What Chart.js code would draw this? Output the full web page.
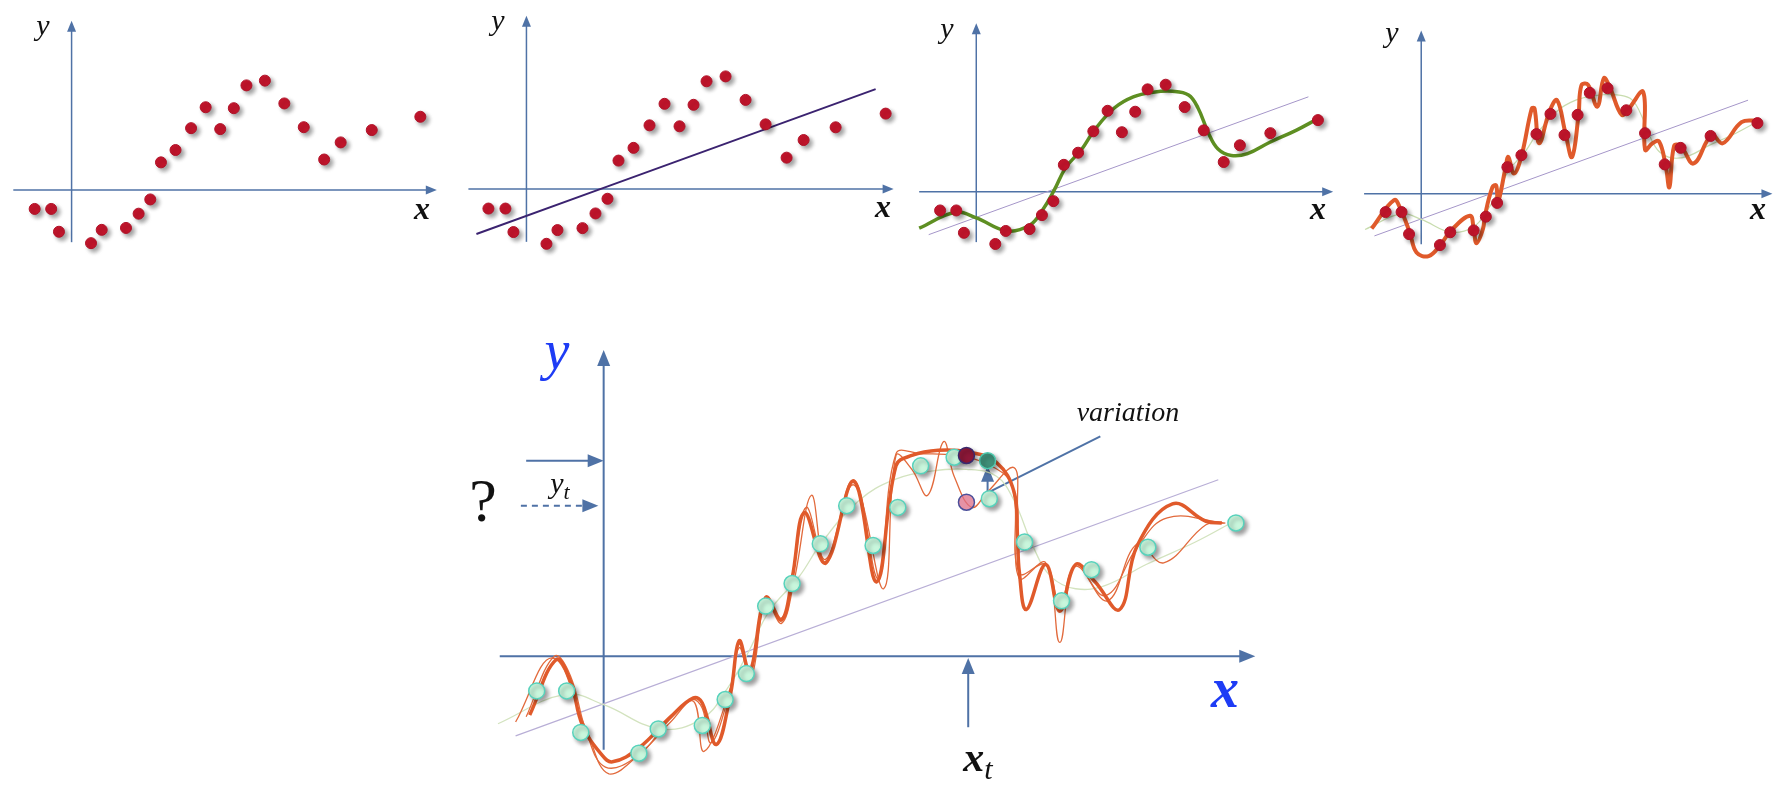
<!DOCTYPE html>
<html lang="en">
<head>
<meta charset="UTF-8" />
<title>Fitting noisy points</title>
<style>
    body {
        margin: 0;
        width: 1780px;
        height: 785px;
        position: relative;
        overflow: hidden;
        background: #fff;
        font-family: "Liberation Serif", "DejaVu Serif", serif;
    }

    canvas {
        position: absolute;
        display: block;
    }

    .lbl {
        position: absolute;
        transform: translate(-50%, -50%);
        font-style: italic;
        white-space: nowrap;
        line-height: 1;
        color: #111;
    }
</style>
</head>
<body>
<canvas id="p1"></canvas>
<canvas id="p2"></canvas>
<canvas id="p3"></canvas>
<canvas id="p4"></canvas>
<canvas id="p5"></canvas>

<div class="lbl" style="left:43px;top:25px;font-size:30px">y</div>
<div class="lbl" style="left:422px;top:208px;font-size:32px;font-weight:bold">x</div>
<div class="lbl" style="left:498px;top:20px;font-size:30px">y</div>
<div class="lbl" style="left:883px;top:206px;font-size:32px;font-weight:bold">x</div>
<div class="lbl" style="left:947px;top:28px;font-size:30px">y</div>
<div class="lbl" style="left:1318px;top:208px;font-size:32px;font-weight:bold">x</div>
<div class="lbl" style="left:1392px;top:32px;font-size:30px">y</div>
<div class="lbl" style="left:1758px;top:208px;font-size:32px;font-weight:bold">x</div>

<div class="lbl" style="left:557px;top:350px;font-size:56px;color:#1e3cf5">y</div>
<div class="lbl" style="left:1225px;top:688px;font-size:56px;font-weight:bold;color:#1e3cf5">x</div>
<div class="lbl" style="left:483px;top:500px;font-size:62px;font-style:normal">?</div>
<div class="lbl" style="left:560px;top:485px;font-size:30px">y<span style="font-size:22px;vertical-align:-6px">t</span></div>
<div class="lbl" style="left:978px;top:760px;font-size:42px"><b>x</b><span style="font-size:30px;vertical-align:-8px">t</span></div>
<div class="lbl" style="left:1128px;top:412px;font-size:28px">variation</div>

<script src="https://cdn.jsdelivr.net/npm/chart.js"></script>
<script>
    // observed points (same sample in every panel)
    const obsX = [-38, -21, -13, 20, 31, 56, 69, 81, 92, 107, 123, 138, 153, 167, 180, 199, 219, 239, 260, 277, 309, 359];
    const obsY = [-20, -20, -44, -56, -42, -40, -25, -10, 29, 42, 65, 87, 64, 86, 110, 115, 91, 66, 32, 50, 63, 77];

    // straight line fit
    const lineX = [-50, 349];
    const lineY = [-46, 102];

    // smooth fit (green)
    const fitX = [-60, -22, 0, 32, 56, 70, 82, 94, 111, 124, 145, 165, 186, 206, 223, 233, 244, 254, 268, 285, 308, 336, 358];
    const fitY = [-39, -22, -28, -42, -36, -19, 2, 26, 46, 66, 90, 102, 107, 108, 104, 90, 63, 46, 39, 41, 53, 66, 78];

    // over-fitted curve (panel 4)
    const overX = [-53, -29, -22, -12, -5, 8, 21, 31, 52, 56, 59, 66, 68, 76, 80, 82, 90, 93, 99, 107, 118, 121, 126, 137, 145, 154, 161, 168, 171, 178, 188, 195, 201, 214, 221, 237, 239, 247, 254, 261, 265, 270, 277, 291, 310, 322, 342, 358];
    const overY = [-38, -7, -17, -43, -64, -68, -55, -41, -24, -38, -54, -38, -24, 7, 9, -9, 28, 40, 22, 41, 93, 93, 55, 90, 102, 66, 40, 86, 118, 119, 95, 126, 117, 86, 92, 111, 48, 55, 57, 31, 7, 52, 52, 33, 64, 55, 78, 80];

    // bottom panel: thick model and two variant models
    const thickX = [-42, -27, -19, -12, -1, 5, 20, 38, 51, 56, 64, 72, 77, 83, 92, 101, 107, 114, 126, 142, 155, 166, 175, 190, 207, 223, 233, 235, 236, 240, 251, 259, 268, 279, 293, 303, 323, 342, 351];
    const thickY = [-34, -2, -14, -40, -57, -61, -53, -35, -24, -27, -51, -22, 9, -9, 34, 21, 45, 83, 54, 101, 43, 110, 116, 119, 118, 112, 95, 69, 49, 27, 53, 26, 53, 43, 27, 64, 88, 78, 77];
    const varAX = [-50, -29, -10, 3, 22, 38, 51, 57, 72, 77, 84, 92, 101, 108, 118, 126, 142, 159, 166, 175, 184, 193, 199, 209, 218, 233, 235, 236, 251, 259, 268, 286, 303, 318, 342, 353];
    const varAY = [-38, -1, -42, -68, -55, -38, -26, -55, -18, 7, -11, 32, 19, 43, 93, 53, 99, 39, 116, 108, 93, 124, 104, 86, 95, 109, 86, 45, 54, 8, 53, 32, 65, 54, 76, 77];
    const varBX = [-44, -28, -19, -10, 1, 20, 37, 50, 56, 61, 71, 77, 83, 92, 101, 107, 115, 126, 142, 156, 166, 180, 200, 220, 232, 236, 251, 259, 268, 285, 303, 320, 352];
    const varBY = [-35, 0, -11, -43, -64, -57, -37, -25, -30, -50, -23, 5, -11, 32, 22, 44, 86, 56, 102, 45, 117, 117, 116, 110, 98, 48, 53, 30, 52, 35, 63, 80, 77];

    // prediction at x_t
    const predX = [206];
    const predY = [116];
    const guessX = [206];
    const guessY = [89];
    const trueX = [218];
    const trueY = [113];

    const zip = (xs, ys) => xs.map((x, i) => ({ x: x, y: ys[i] }));

    const axisBlue = '#4f72a6';

    function drawArrow(ctx, x1, y1, x2, y2, head, dash) {
        ctx.save();
        if (dash) ctx.setLineDash(dash);
        const a = Math.atan2(y2 - y1, x2 - x1);
        const hx = x2 - Math.cos(a) * head[0] * 0.8;
        const hy = y2 - Math.sin(a) * head[0] * 0.8;
        ctx.beginPath();
        ctx.moveTo(x1, y1);
        ctx.lineTo(head[0] ? hx : x2, head[0] ? hy : y2);
        ctx.stroke();
        ctx.restore();
        if (!head[0]) return;
        ctx.beginPath();
        ctx.moveTo(x2, y2);
        ctx.lineTo(x2 - Math.cos(a) * head[0] - Math.sin(a) * head[1], y2 - Math.sin(a) * head[0] + Math.cos(a) * head[1]);
        ctx.lineTo(x2 - Math.cos(a) * head[0] + Math.sin(a) * head[1], y2 - Math.sin(a) * head[0] - Math.cos(a) * head[1]);
        ctx.closePath();
        ctx.fill();
    }

    // axes + annotation arrows, in data units
    const arrowsPlugin = {
        id: 'arrows',
        beforeDatasetsDraw(chart, args, opts) {
            const ctx = chart.ctx;
            const sx = chart.scales.x, sy = chart.scales.y;
            ctx.save();
            ctx.strokeStyle = opts.color;
            ctx.fillStyle = opts.color;
            ctx.lineWidth = opts.width;
            (opts.list || []).forEach(a => {
                drawArrow(ctx,
                    sx.getPixelForValue(a[0]), sy.getPixelForValue(a[1]),
                    sx.getPixelForValue(a[2]), sy.getPixelForValue(a[3]),
                    a[4] === false ? [0, 0] : opts.head, a[5]);
            });
            ctx.restore();
        }
    };

    const shadowPlugin = {
        id: 'dotShadow',
        beforeDatasetDraw(chart, args) {
            const ds = chart.data.datasets[args.index];
            if (!ds.shadow) return;
            const ctx = chart.ctx;
            ctx.save();
            ctx.shadowColor = 'rgba(0,0,0,0.38)';
            ctx.shadowBlur = 4;
            ctx.shadowOffsetX = 3;
            ctx.shadowOffsetY = 3;
        },
        afterDatasetDraw(chart, args) {
            if (chart.data.datasets[args.index].shadow) chart.ctx.restore();
        }
    };

    function curve(xs, ys, color, width, order, smooth) {
        return {
            data: zip(xs, ys), showLine: true, borderColor: color, borderWidth: width,
            pointRadius: 0, order: order, clip: false,
            tension: smooth ? 0.4 : 0,
            cubicInterpolationMode: smooth ? 'default' : 'monotone'
        };
    }

    function redDots(r) {
        return {
            data: zip(obsX, obsY), showLine: false, pointRadius: r, pointBackgroundColor: '#c4152c',
            pointBorderColor: '#b01228', pointBorderWidth: 1, order: 0, shadow: true, clip: false
        };
    }

    function makePanel(id, p, datasets, arrows) {
        const c = document.getElementById(id);
        c.width = p.w;
        c.height = p.h;
        c.style.left = p.left + 'px';
        c.style.top = p.top + 'px';
        return new Chart(c, {
            type: 'scatter',
            data: { datasets: datasets },
            options: {
                responsive: false,
                animation: false,
                events: [],
                layout: { padding: 0 },
                scales: {
                    x: { type: 'linear', display: false, min: -p.ox / p.s, max: (p.w - p.ox) / p.s },
                    y: { type: 'linear', display: false, min: -(p.h - p.oy) / p.s, max: p.oy / p.s }
                },
                plugins: {
                    legend: { display: false },
                    tooltip: { enabled: false },
                    arrows: arrows
                }
            },
            plugins: [arrowsPlugin, shadowPlugin]
        });
    }

    // panel 1: data only
    makePanel('p1', { left: 0, top: 0, w: 455, h: 262, ox: 67, oy: 193, s: 1.0 },
        [redDots(5.5)],
        { color: axisBlue, width: 1.5, head: [11, 4.5], list: [[-60, 0, 376, 0], [0, -55, 0, 178]] });

    // panel 2: straight line
    makePanel('p2', { left: 450, top: 0, w: 455, h: 262, ox: 72, oy: 192, s: 1.03 },
        [redDots(5.5), curve(lineX, lineY, '#3b2370', 2, 2)],
        { color: axisBlue, width: 1.5, head: [11, 4.5], list: [[-58, 0, 367, 0], [0, -54, 0, 177]] });

    // panel 3: smooth fit
    makePanel('p3', { left: 895, top: 0, w: 450, h: 262, ox: 77, oy: 195, s: 0.98 },
        [redDots(5.5), curve(fitX, fitY, '#5e8f22', 3.5, 1, true), curve(lineX, lineY, '#a596c9', 1, 2)],
        { color: axisBlue, width: 1.5, head: [11, 4.5], list: [[-60, 0, 375, 0], [0, -54, 0, 181]] });

    // panel 4: over-fit
    makePanel('p4', { left: 1340, top: 0, w: 440, h: 262, ox: 77, oy: 197, s: 0.965 },
        [redDots(5.5), curve(overX, overY, '#e05a2b', 4, 1, true), curve(fitX, fitY, '#c8dcae', 1.2, 2, true), curve(lineX, lineY, '#a596c9', 1, 3)],
        { color: axisBlue, width: 1.5, head: [11, 4.5], list: [[-61, 0, 375, 0], [0, -55, 0, 178]] });

    // bottom: several models and a prediction
    makePanel('p5', { left: 420, top: 290, w: 880, h: 495, ox: 178, oy: 371, s: 1.8 },
        [
            {
                data: zip(predX, predY), showLine: false, pointRadius: 8, pointBackgroundColor: '#8c1838',
                pointBorderColor: '#3a2a6e', pointBorderWidth: 1.5, order: -2, shadow: true
            },
            {
                data: zip(trueX, trueY), showLine: false, pointRadius: 8, pointBackgroundColor: '#3f8f78',
                pointBorderColor: '#4fcab0', pointBorderWidth: 1.5, order: -1, shadow: true
            },
            {
                data: zip(guessX, guessY), showLine: false, pointRadius: 8, pointBackgroundColor: 'rgba(222,110,135,0.75)',
                pointBorderColor: '#4b4f9a', pointBorderWidth: 1.5, order: -1
            },
            {
                data: zip(obsX, obsY), showLine: false, pointRadius: 8, pointBackgroundColor: '#c8f6dc',
                pointBorderColor: '#58d2bc', pointBorderWidth: 1.5, order: 0, shadow: true
            },
            curve(thickX, thickY, '#e05a2b', 3.5, 1, true),
            curve(varAX, varAY, '#e26a3c', 1.3, 2, true),
            curve(varBX, varBY, '#e26a3c', 1.3, 2, true),
            curve(fitX, fitY, '#d3e3bf', 1.3, 3, true),
            curve(lineX, lineY, '#b8aed6', 1.2, 4)
        ],
        {
            color: axisBlue, width: 2, head: [16, 6.5],
            list: [
                [-59, 0, 370, 0], [0, -54, 0, 177],
                [-44, 113, 0, 113], [-47, 87, -3, 87, true, [6, 5]],
                [207, -41, 207, -1],
                [218, 94, 218, 110],
                [219, 95, 282, 127, false]
            ]
        });
</script>
</body>
</html>
